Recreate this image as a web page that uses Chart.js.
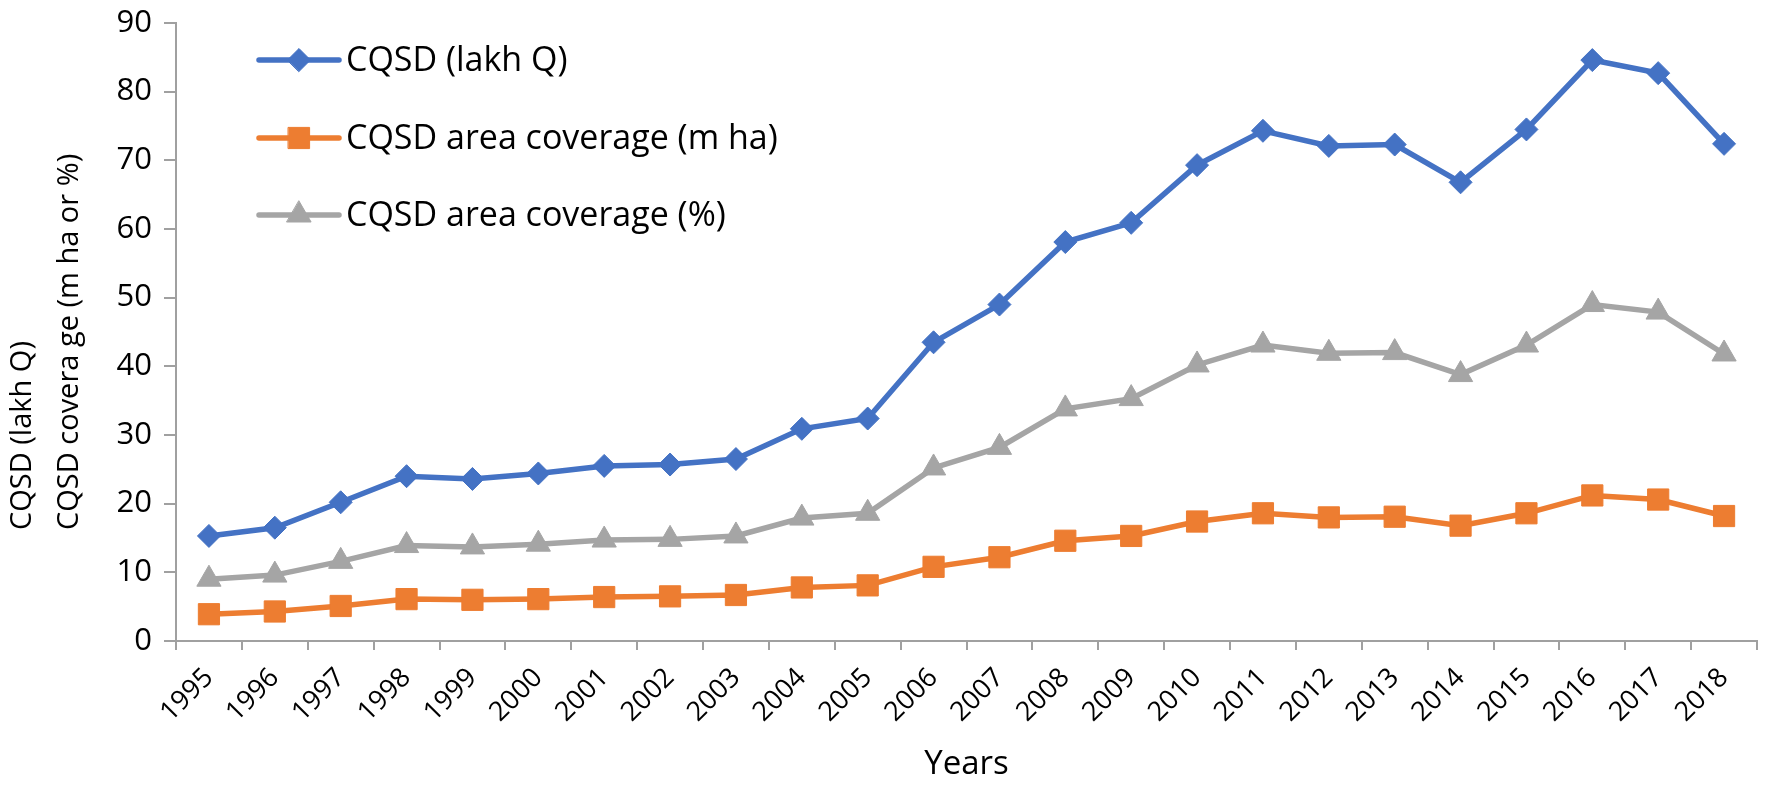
<!DOCTYPE html>
<html>
<head>
<meta charset="utf-8">
<script src="https://cdn.jsdelivr.net/npm/chart.js@4/dist/chart.umd.min.js"></script>
<style>
  html, body { margin: 0; padding: 0; background: #fff; }
  #wrap { position: relative; width: 1773px; height: 787px; }
</style>
</head>
<body>
<div id="wrap"><canvas id="chart"></canvas></div>
<script>
// Chart data
const years = ['1995', '1996', '1997', '1998', '1999', '2000', '2001', '2002',
  '2003', '2004', '2005', '2006', '2007', '2008', '2009', '2010', '2011',
  '2012', '2013', '2014', '2015', '2016', '2017', '2018'];
const cqsdLakhQ = [15.3, 16.5, 20.2, 24.0, 23.6, 24.4, 25.5, 25.7, 26.5, 30.9,
  32.4, 43.5, 49.0, 58.1, 60.9, 69.3, 74.3, 72.1, 72.3, 66.8, 74.5, 84.6, 82.7, 72.4];
const areaMha = [3.9, 4.3, 5.1, 6.1, 6.0, 6.1, 6.4, 6.5, 6.7, 7.8, 8.1, 10.8,
  12.2, 14.6, 15.3, 17.4, 18.6, 18.0, 18.1, 16.8, 18.6, 21.2, 20.6, 18.2];
const areaPct = [9.0, 9.6, 11.6, 13.9, 13.7, 14.1, 14.7, 14.8, 15.3, 17.9, 18.6,
  25.2, 28.2, 33.8, 35.3, 40.2, 43.1, 41.9, 42.0, 38.8, 43.1, 49.0, 47.9, 41.8];
const seriesNames = ['CQSD (lakh Q)', 'CQSD area coverage (m ha)', 'CQSD area coverage (%)'];
const yMin = 0, yMax = 90, yStep = 10;
const yTitle = ['CQSD (lakh Q)', 'CQSD covera ge (m ha or %)'];
const xTitle = 'Years';

const FONT = "'Open Sans', 'DejaVu Sans', sans-serif";
const AXIS = '#a0a0a0';

// Legend drawn inside the plot, line + marker like the original
const insideLegend = {
  id: 'insideLegend',
  afterDatasetsDraw(chart) {
    const ctx = chart.ctx;
    const x0 = 259, x1 = 339, tx = 346;
    const rows = [60, 138, 215];
    chart.data.datasets.forEach((ds, i) => {
      const y = rows[i];
      ctx.save();
      ctx.strokeStyle = ds.borderColor;
      ctx.lineWidth = ds.borderWidth;
      ctx.lineCap = 'round';
      ctx.beginPath();
      ctx.moveTo(x0, y);
      ctx.lineTo(x1, y);
      ctx.stroke();
      ctx.fillStyle = ds.pointBackgroundColor;
      ctx.strokeStyle = ds.pointBorderColor;
      ctx.lineWidth = 1;
      Chart.helpers.drawPoint(ctx, {
        pointStyle: ds.pointStyle, radius: ds.pointRadius, rotation: 0, borderWidth: 1
      }, (x0 + x1) / 2, y);
      ctx.fillStyle = '#000';
      ctx.font = `34px ${FONT}`;
      ctx.textAlign = 'left';
      ctx.textBaseline = 'middle';
      ctx.fillText(ds.label, tx, y + 1);
      ctx.restore();
    });
  },
};

// Two-line y title, lines start at the same point (left aligned once rotated)
const yAxisTitle = {
  id: 'yAxisTitle',
  afterDraw(chart) {
    const ctx = chart.ctx;
    const xs = [23, 70];
    ctx.save();
    ctx.fillStyle = '#000';
    ctx.font = `29px ${FONT}`;
    ctx.textAlign = 'left';
    ctx.textBaseline = 'middle';
    yTitle.forEach((t, i) => {
      ctx.save();
      ctx.translate(xs[i], 530);
      ctx.rotate(-Math.PI / 2);
      ctx.fillText(t, 0, 0);
      ctx.restore();
    });
    ctx.restore();
  },
};

function series(label, data, color, style, radius) {
  return {
    label, data,
    borderColor: color, backgroundColor: color,
    borderWidth: 5.5,
    pointStyle: style, pointRadius: radius, pointHoverRadius: radius,
    pointBackgroundColor: color, pointBorderColor: color, pointBorderWidth: 1,
    tension: 0, fill: false,
  };
}

new Chart(document.getElementById('chart').getContext('2d'), {
  type: 'line',
  data: {
    labels: years,
    datasets: [
      series(seriesNames[0], cqsdLakhQ, '#4472C4', 'rectRot', 11.5),
      series(seriesNames[1], areaMha, '#ED7D31', 'rect', 15),
      series(seriesNames[2], areaPct, '#A5A5A5', 'triangle', 14),
    ],
  },
  options: {
    responsive: true,
    maintainAspectRatio: false,
    animation: false,
    layout: { padding: { top: 23, right: 1, bottom: 0, left: 0 } },
    plugins: {
      legend: { display: false },
      tooltip: { enabled: false },
    },
    scales: {
      x: {
        offset: true,
        border: { color: AXIS, width: 2 },
        grid: { drawOnChartArea: false, drawTicks: true, tickLength: 9, color: AXIS, lineWidth: 2, offset: true },
        ticks: {
          color: '#000', autoSkip: false, maxRotation: 45, minRotation: 45, padding: 12,
          font: { family: FONT, size: 27 },
        },
        title: {
          display: true, text: xTitle, color: '#000',
          font: { family: FONT, size: 33 }, padding: { top: 0, bottom: 3 },
        },
        afterFit(scale) {
          scale.height = 146;
          scale.paddingLeft = 0;
          scale.paddingRight = 0;
        },
      },
      y: {
        min: yMin, max: yMax,
        border: { color: AXIS, width: 2 },
        grid: { drawOnChartArea: false, drawTicks: true, tickLength: 12, color: AXIS, lineWidth: 2 },
        ticks: {
          stepSize: yStep, color: '#000', padding: 12,
          font: { family: FONT, size: 31 },
        },
        afterFit(scale) {
          scale.width = 176;
          scale.paddingTop = 0;
          scale.paddingBottom = 0;
        },
      },
    },
  },
  plugins: [insideLegend, yAxisTitle],
});
</script>
</body>
</html>
